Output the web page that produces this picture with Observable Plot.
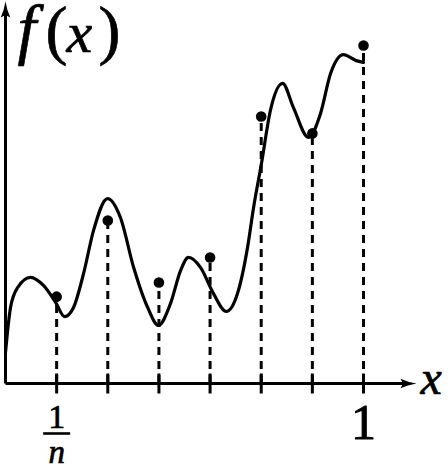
<!DOCTYPE html>
<html>
<head>
<meta charset="utf-8">
<script src="https://cdn.jsdelivr.net/npm/d3@7"></script>
<script src="https://cdn.jsdelivr.net/npm/@observablehq/plot@0.6"></script>
<style>
  html, body { margin: 0; padding: 0; background: #fff; }
  #chart svg { display: block; overflow: visible; }
</style>
</head>
<body>
<div id="chart"></div>
<script>
// Smooth curve f(x), knots
const curveX = [0, 0.006, 0.014, 0.034, 0.070, 0.106, 0.140, 0.165, 0.190, 0.218, 0.246, 0.285, 0.321, 0.358, 0.397, 0.427, 0.461, 0.489, 0.511, 0.545, 0.581, 0.617, 0.648, 0.676, 0.693, 0.715, 0.740, 0.774, 0.804, 0.846, 0.880, 0.908, 0.944, 0.978, 1.0];
const curveY = [0.092, 0.157, 0.225, 0.284, 0.314, 0.290, 0.240, 0.198, 0.225, 0.325, 0.453, 0.547, 0.491, 0.343, 0.225, 0.172, 0.237, 0.334, 0.373, 0.343, 0.266, 0.213, 0.266, 0.402, 0.521, 0.651, 0.808, 0.888, 0.817, 0.728, 0.799, 0.917, 0.973, 0.956, 0.950];

// Sample points at x = k/n, n = 7
const sampleX = [1/7, 2/7, 3/7, 4/7, 5/7, 6/7, 1];
const sampleY = [0.257, 0.482, 0.299, 0.373, 0.790, 0.740, 1.0];

// Axis extents (data units)
const xAxisEnd = 1.148;
const yAxisEnd = 1.13;

// Labels
const yLabel = ["f", "(", "x", ")"];
const xLabel = "x";
const fracNum = "1";
const fracDen = "n";
const lastTickLabel = "1";

const curve = curveX.map((x, i) => ({x, y: curveY[i]}));
const samples = sampleX.map((x, i) => ({x, y: sampleY[i]}));

const arrowHead = {
  draw(ctx) {
    ctx.moveTo(0, 0);
    ctx.quadraticCurveTo(1.5, 9, 4.8, 16);
    ctx.lineTo(0, 13.5);
    ctx.lineTo(-4.8, 16);
    ctx.quadraticCurveTo(-1.5, 9, 0, 0);
    ctx.closePath();
  }
};
const vTick = { draw(ctx) { ctx.moveTo(0, -10); ctx.lineTo(0, 10); } };
const hBar = { draw(ctx) { ctx.moveTo(-13.5, 0); ctx.lineTo(13.5, 0); } };

const serif = "Liberation Serif";
const txt = {fill: "#000", stroke: "#000", strokeWidth: 0.7, fontFamily: serif, lineAnchor: "bottom"};

const plot = Plot.plot({
  width: 448,
  height: 466,
  marginLeft: 5,
  marginRight: 85,
  marginTop: 45,
  marginBottom: 83,
  x: {domain: [0, 1], axis: null},
  y: {domain: [0, 1], axis: null},
  style: {background: "#fff", overflow: "visible"},
  marks: [
    // axes
    Plot.link([{x1: 0, y1: 0, x2: xAxisEnd - 0.03, y2: 0}], {x1: "x1", y1: "y1", x2: "x2", y2: "y2", stroke: "#000", strokeWidth: 3}),
    Plot.link([{x1: 0, y1: 0, x2: 0, y2: yAxisEnd - 0.03}], {x1: "x1", y1: "y1", x2: "x2", y2: "y2", stroke: "#000", strokeWidth: 3}),
    Plot.dot([{x: xAxisEnd, y: 0}], {x: "x", y: "y", symbol: arrowHead, rotate: 90, fill: "#000", stroke: "none"}),
    Plot.dot([{x: 0, y: yAxisEnd}], {x: "x", y: "y", symbol: arrowHead, fill: "#000", stroke: "none"}),
    // ticks
    Plot.dot(sampleX, {x: d => d, y: () => 0, symbol: vTick, fill: "none", stroke: "#000", strokeWidth: 3}),
    // dashed droplines
    Plot.ruleX(samples, {x: "x", y1: () => 0, y2: "y", stroke: "#000", strokeWidth: 3, strokeDasharray: "8,6"}),
    // curve
    Plot.line(curve, {x: "x", y: "y", curve: "monotone-x", stroke: "#000", strokeWidth: 3.2}),
    // sample points
    Plot.dot(samples, {x: "x", y: "y", r: 5.3, fill: "#000", stroke: "none"}),
    // f(x) label
    Plot.text([yLabel[0]], {...txt, frameAnchor: "top-left", text: d => d, dx: 12, dy: 6, textAnchor: "start", fontStyle: "italic", fontSize: 67}),
    Plot.text([yLabel[1]], {...txt, frameAnchor: "top-left", text: d => d, dx: 40, dy: 6, textAnchor: "start", fontSize: 66}),
    Plot.text([yLabel[2]], {...txt, frameAnchor: "top-left", text: d => d, dx: 61, dy: 6, textAnchor: "start", fontStyle: "italic", fontSize: 58}),
    Plot.text([yLabel[3]], {...txt, frameAnchor: "top-left", text: d => d, dx: 93, dy: 6, textAnchor: "start", fontSize: 66}),
    // x label
    Plot.text([xLabel], {...txt, x: () => xAxisEnd, y: () => 0, text: d => d, dx: 4, dy: 10, textAnchor: "start", fontStyle: "italic", fontSize: 48}),
    // 1/n
    Plot.text([fracNum], {...txt, x: () => sampleX[0], y: () => 0, text: d => d, dy: 44, textAnchor: "middle", fontSize: 34}),
    Plot.dot([sampleX[0]], {x: d => d, y: () => 0, dy: 50, symbol: hBar, fill: "none", stroke: "#000", strokeWidth: 2.6}),
    Plot.text([fracDen], {...txt, x: () => sampleX[0], y: () => 0, text: d => d, dy: 79, textAnchor: "middle", fontStyle: "italic", fontSize: 33}),
    // 1
    Plot.text([lastTickLabel], {...txt, x: () => sampleX[6], y: () => 0, text: d => d, dy: 55, textAnchor: "middle", fontSize: 50, strokeWidth: 1})
  ]
});
document.getElementById("chart").appendChild(plot);
</script>
</body>
</html>
